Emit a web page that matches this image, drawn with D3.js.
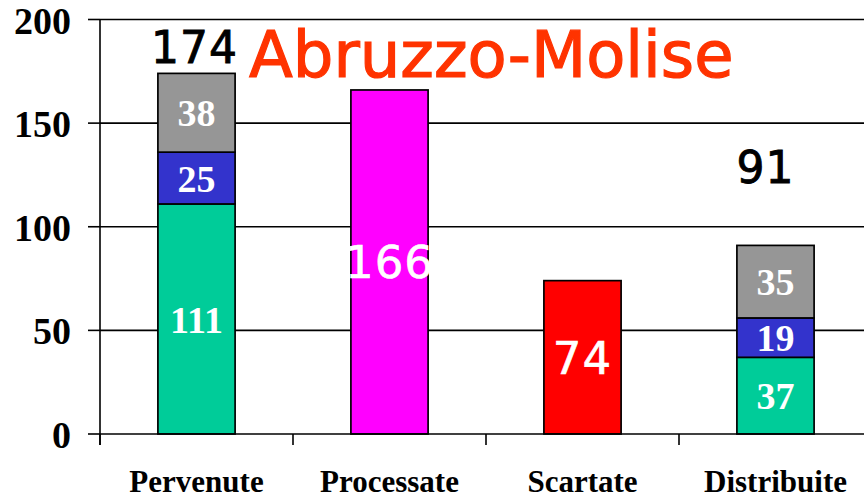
<!DOCTYPE html>
<html>
<head>
<meta charset="utf-8">
<script src="https://cdn.jsdelivr.net/npm/d3@7"></script>
<style>
  html, body { margin: 0; padding: 0; background: #fff; }
  svg { display: block; }
</style>
</head>
<body>
<svg id="chart" width="864" height="501"></svg>
<script>
// Categories and stacked segment values (bottom to top)
const categories = ["Pervenute", "Processate", "Scartate", "Distribuite"];
const seriesKeys = ["a", "b", "c"];
const seriesA = [111, 166, 74, 37];   // base segment
const seriesB = [25, 0, 0, 19];       // middle segment
const seriesC = [38, 0, 0, 35];       // top segment
const totals = [174, null, null, 91];
const yTicks = [0, 50, 100, 150, 200];
const title = "Abruzzo-Molise";

// Segment fills per category
const baseColors = ["#00CC99", "#FF00FF", "#FF0000", "#00CC99"];
const midColor = "#3333CC";
const topColor = "#969696";

const svg = d3.select("#chart");
const x0 = 100, x1 = 872, yTop = 19.5, yBot = 434;
const serif = "'Liberation Serif', 'Times New Roman', serif";
const sans = "'DejaVu Sans', Verdana, sans-serif";

const x = d3.scaleBand().domain(categories).range([x0, x1]).paddingInner(0.6).paddingOuter(0.3);
const xb = d3.scaleBand().domain(categories).range([x0, x1]).padding(0);
const y = d3.scaleLinear().domain([0, 200]).range([yBot, yTop]);

// Horizontal grid lines
svg.append("g").selectAll("line").data(yTicks.filter(d => d > 0)).join("line")
  .attr("x1", x0).attr("x2", 864)
  .attr("y1", d => y(d)).attr("y2", d => y(d))
  .attr("stroke", "#000").attr("stroke-width", 1.6);

// Stacked data
const table = categories.map((c, i) => ({ cat: c, a: seriesA[i], b: seriesB[i], c: seriesC[i], i }));
const stack = d3.stack().keys(seriesKeys)(table);

const segColor = (key, i) => key === "a" ? baseColors[i] : key === "b" ? midColor : topColor;

stack.forEach(layer => {
  svg.append("g").selectAll("rect").data(layer.filter(d => d[1] > d[0])).join("rect")
    .attr("x", d => x(d.data.cat))
    .attr("width", x.bandwidth())
    .attr("y", d => y(d[1]))
    .attr("height", d => y(d[0]) - y(d[1]))
    .attr("fill", d => segColor(layer.key, d.data.i))
    .attr("stroke", "#000").attr("stroke-width", 1.7);
});

// Segment value labels
stack.forEach(layer => {
  svg.append("g").selectAll("text").data(layer.filter(d => d[1] > d[0])).join("text")
    .attr("x", d => x(d.data.cat) + x.bandwidth() / 2)
    .attr("y", d => (y(d[0]) + y(d[1])) / 2)
    .attr("dy", "0.36em")
    .attr("text-anchor", "middle")
    .attr("fill", "#fff")
    .each(function (d) {
      const stacked = seriesB[d.data.i] > 0;
      const t = d3.select(this);
      if (stacked) {
        t.attr("font-family", serif).attr("font-weight", "bold").attr("font-size", 38);
      } else {
        t.attr("font-family", sans).attr("font-size", 45).attr("letter-spacing", 1)
         .attr("stroke", "#fff").attr("stroke-width", 0.6);
      }
    })
    .text(d => d[1] - d[0]);
});

// Axes frame
svg.append("line").attr("x1", x0).attr("x2", x0).attr("y1", yTop).attr("y2", yBot + 11)
  .attr("stroke", "#000").attr("stroke-width", 1.6);
svg.append("line").attr("x1", x0).attr("x2", 864).attr("y1", yBot).attr("y2", yBot)
  .attr("stroke", "#000").attr("stroke-width", 1.6);

// Y ticks and labels
const yAxis = svg.append("g");
yAxis.selectAll("line").data(yTicks).join("line")
  .attr("x1", x0 - 12).attr("x2", x0)
  .attr("y1", d => y(d)).attr("y2", d => y(d))
  .attr("stroke", "#000").attr("stroke-width", 1.6);
yAxis.selectAll("text").data(yTicks).join("text")
  .attr("x", 71).attr("y", d => y(d) + 14)
  .attr("text-anchor", "end")
  .attr("font-family", serif)
  .attr("font-weight", "bold").attr("font-size", 38)
  .text(d => d);

// X ticks at band boundaries
svg.append("g").selectAll("line").data(categories).join("line")
  .attr("x1", d => xb(d)).attr("x2", d => xb(d))
  .attr("y1", yBot).attr("y2", yBot + 11)
  .attr("stroke", "#000").attr("stroke-width", 1.6);

// Category labels
svg.append("g").selectAll("text").data(categories).join("text")
  .attr("x", d => xb(d) + xb.bandwidth() / 2)
  .attr("y", 492)
  .attr("text-anchor", "middle")
  .attr("font-family", serif)
  .attr("font-weight", "bold").attr("font-size", 31)
  .text(d => d);

// Totals above stacked bars
const totalY = [63, null, null, 183];
const totalDx = [-2, 0, 0, -10];
svg.append("g").selectAll("text").data(categories.filter((c, i) => totals[i] !== null)).join("text")
  .attr("x", d => x(d) + x.bandwidth() / 2 + totalDx[categories.indexOf(d)])
  .attr("y", d => totalY[categories.indexOf(d)])
  .attr("text-anchor", "middle")
  .attr("font-family", sans)
  .attr("font-size", 44).attr("letter-spacing", 1)
  .attr("fill", "#000").attr("stroke", "#000").attr("stroke-width", 0.9)
  .text(d => totals[categories.indexOf(d)]);

// Title
svg.append("text")
  .attr("x", 249).attr("y", 77)
  .attr("fill", "#FF3300")
  .attr("stroke", "#FF3300").attr("stroke-width", 1.2)
  .attr("font-family", sans)
  .attr("font-size", 64)
  .text(title);
</script>
</body>
</html>
